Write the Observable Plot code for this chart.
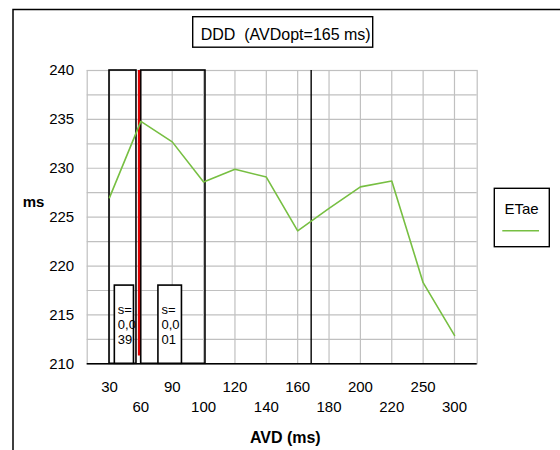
<!DOCTYPE html>
<html>
<head>
<meta charset="utf-8">
<script src="https://cdn.jsdelivr.net/npm/d3@7"></script>
<script src="https://cdn.jsdelivr.net/npm/@observablehq/plot@0.6"></script>
<style>
  html, body { margin: 0; padding: 0; background: #fff; }
  #chart { width: 560px; height: 450px; }
</style>
</head>
<body>
<div id="chart"></div>
<script>
// AV delay settings (category axis) and measured ETae per setting
const avd = ["30", "60", "90", "100", "120", "140", "160", "180", "200", "220", "250", "300"];
const etae = [227.0, 234.8, 232.7, 228.6, 229.9, 229.1, 223.6, 225.9, 228.1, 228.7, 218.3, 212.9];

// Comparison windows, in category positions along the AVD axis
const windowFrom = [0, 1.01];
const windowTo = [0.86, 3.06];

// Significance boxes inside the windows
const sFrom = [0.17, 1.56];
const sTo = [0.78, 2.31];
const sTop = [218, 218];
const sValue = ["0,039", "0,001"];

// Split between windows and optimal AV delay marker (category positions)
const splitPos = 0.94;
const splitBottom = 210.8;
const optPos = 6.43;

const yTicks = [210, 215, 220, 225, 230, 235, 240];
const yGrid = d3.range(210, 240.01, 2.5);

const series = etae.map((v, i) => ({i, v}));
const windows = windowFrom.map((f, k) => ({from: f, to: windowTo[k]}));
const sBoxes = sFrom.map((f, k) => ({from: f, to: sTo[k], top: sTop[k], s: sValue[k]}));

const green = "#77bf42";
const font = "'Liberation Sans', Arial, sans-serif";

const chart = Plot.plot({
  width: 560,
  height: 450,
  marginLeft: 86.7,
  marginRight: 83.3,
  marginTop: 70,
  marginBottom: 86.7,
  style: {fontFamily: font, fontSize: "15px", color: "#000", background: "#fff"},
  x: {domain: [-0.711, 11.724]},
  y: {domain: [210, 240]},
  marks: [
    Plot.ruleY(yGrid, {stroke: "#c0c0c0", strokeWidth: 1.2}),
    Plot.ruleX(d3.range(avd.length), {stroke: "#c0c0c0", strokeWidth: 1.2}),
    Plot.frame({stroke: "#c0c0c0", strokeWidth: 1.2}),
    Plot.rect(windows, {x1: "from", x2: "to", y1: 210, y2: 240, fill: "none", stroke: "#000", strokeWidth: 1.6}),
    Plot.ruleX([splitPos], {y1: splitBottom, y2: 240, stroke: "#e00000", strokeWidth: 2.2}),
    Plot.ruleX([optPos], {y1: 210, y2: 240, stroke: "#000", strokeWidth: 1.4}),
    Plot.rect(sBoxes, {x1: "from", x2: "to", y1: 210, y2: "top", fill: "#fff", stroke: "#000", strokeWidth: 1.6}),
    Plot.text(sBoxes, {
      x: "from", y: "top",
      text: d => "s=\n" + d.s.slice(0, 3) + "\n" + d.s.slice(3),
      textAnchor: "start", lineAnchor: "top", dx: 3, dy: 18,
      fontSize: 13, lineHeight: 1.15, fill: "#000"
    }),
    Plot.line(series, {x: "i", y: "v", stroke: green, strokeWidth: 1.6}),
    Plot.ruleY([210], {stroke: "#000", strokeWidth: 1.6}),
    Plot.axisY({ticks: yTicks, tickSize: 0, tickPadding: 13, fontSize: 15, label: null}),
    Plot.axisX({ticks: [0, 2, 4, 6, 8, 10], tickFormat: i => avd[i], tickSize: 0, tickPadding: 18, fontSize: 15, label: null}),
    Plot.axisX({ticks: [1, 3, 5, 7, 9, 11], tickFormat: i => avd[i], tickSize: 0, tickPadding: 38, fontSize: 15, label: null})
  ]
});

document.getElementById("chart").appendChild(chart);

// Chart furniture: outer border, title box, axis titles and legend
const svg = d3.select(chart);

svg.append("path")
  .attr("d", "M13,450V9.5H560")
  .attr("fill", "none").attr("stroke", "#000").attr("stroke-width", 1.5);

svg.append("rect")
  .attr("x", 192.7).attr("y", 16.7).attr("width", 180).attr("height", 30.5)
  .attr("fill", "#fff").attr("stroke", "#000").attr("stroke-width", 1.4);
svg.append("text")
  .attr("x", 285.7).attr("y", 39.5).attr("text-anchor", "middle")
  .attr("font-family", font).attr("font-size", 16).attr("fill", "#000")
  .attr("xml:space", "preserve")
  .style("white-space", "pre")
  .text("DDD  (AVDopt=165 ms)");

svg.append("text")
  .attr("x", 22.7).attr("y", 206.7).attr("text-anchor", "start")
  .attr("font-family", font).attr("font-size", 15).attr("font-weight", "bold").attr("fill", "#000")
  .text("ms");

svg.append("text")
  .attr("x", 285.3).attr("y", 443.4).attr("text-anchor", "middle")
  .attr("font-family", font).attr("font-size", 16).attr("font-weight", "bold").attr("fill", "#000")
  .text("AVD (ms)");

svg.append("rect")
  .attr("x", 494.3).attr("y", 188.3).attr("width", 55).attr("height", 58.4)
  .attr("fill", "#fff").attr("stroke", "#000").attr("stroke-width", 1.4);
svg.append("text")
  .attr("x", 521.5).attr("y", 213.5).attr("text-anchor", "middle")
  .attr("font-family", font).attr("font-size", 15).attr("fill", "#000")
  .text("ETae");
svg.append("line")
  .attr("x1", 502.3).attr("x2", 539).attr("y1", 230.7).attr("y2", 230.7)
  .attr("stroke", green).attr("stroke-width", 1.6);
</script>
</body>
</html>
